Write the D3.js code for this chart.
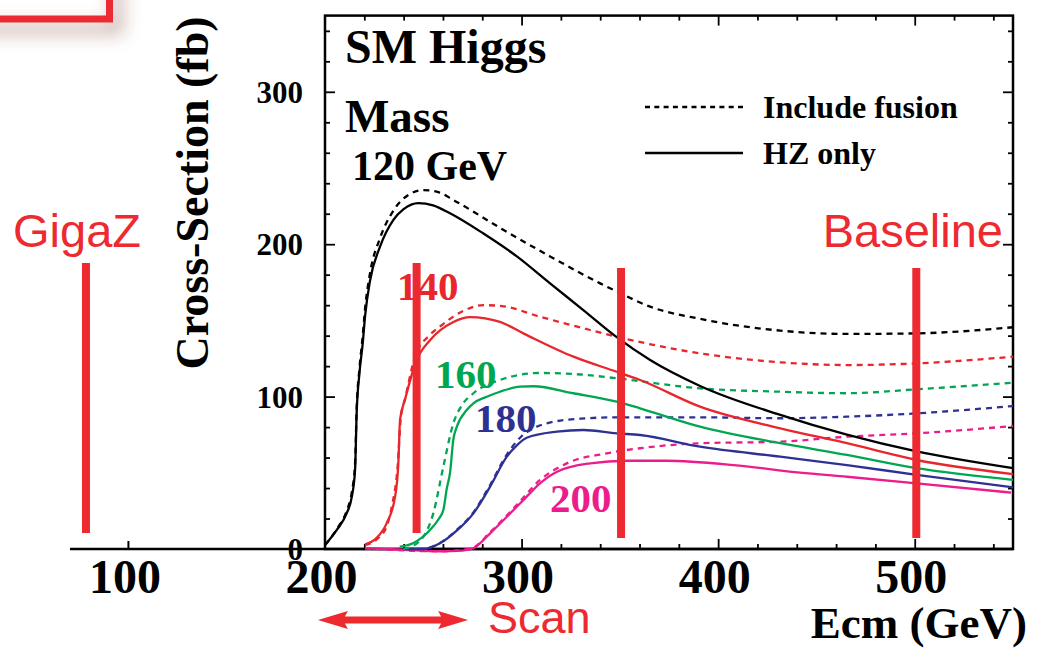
<!DOCTYPE html>
<html>
<head>
<meta charset="utf-8">
<script src="https://cdn.jsdelivr.net/npm/d3@7"></script>
<style>
  html, body { margin: 0; padding: 0; background: #fff; }
  svg { display: block; }
</style>
</head>
<body>
<svg id="chart" width="1042" height="649"></svg>
<script>
// ---------- Data (Ecm in GeV, cross-section in fb) ----------
const hz120 = [[200,2.6],[206,12.5],[211,23.4],[213.6,34],[215.3,52],[216.1,89],[217.5,115],[219.2,135],[220.4,153],[222.9,176],[228,198.4],[234.8,216],[240,223],[247.5,227],[255,225.5],[263.6,220.3],[280.6,207],[297.6,192],[314.5,174.3],[331.4,156.8],[348.4,139],[365.4,124],[390.8,107],[431.6,88],[465.5,75],[501,64],[550,53]];
const fus120 = [[200,2.6],[206,13],[211,25],[213.6,37],[215.3,56],[216.1,92],[217.5,118],[219.2,140],[220.4,158],[222.9,181],[228,204],[234.8,222],[242,232],[250,235.5],[258,234],[265.3,229],[290,210],[314.5,192],[340,174.3],[348.4,169],[365.4,159],[390.8,151],[431.6,143.3],[465.5,141.1],[501,141.5],[550,145.5]];
const hz140 = [[220.4,3],[226,7],[231.4,17],[235.6,34],[237.3,56],[238.2,85],[240.7,98],[246.6,124],[253.4,137],[265.3,149],[273.8,152.2],[289,149],[300.9,141.5],[326.4,126.2],[348.4,116.3],[360.3,110.9],[390.8,93.4],[431.6,79.2],[465.5,69.4],[501,58.4],[550,49.2]];
const fus140 = [[220.4,2.5],[226,6],[231.4,15],[234,28],[237,55],[238.5,85],[241,100],[246,127],[253,140],[258.5,146],[270,156],[280.6,160],[290,159.4],[309.4,152.4],[334.9,143.7],[348.4,139.3],[390.8,128.4],[431.6,122.5],[465.5,120.7],[501,121.8],[550,126.2]];
const hz160 = [[238,1.5],[245,4],[253.4,12.5],[258,20],[260.2,25.6],[262,40],[263.6,50],[265.3,72],[267,80],[272.1,91.2],[275.5,95.6],[282.3,99.9],[289,103.2],[299.2,106.5],[306,106.8],[326.4,102.2],[348.4,96.7],[360.3,92.3],[390.8,80.3],[431.6,69.4],[465.5,61.7],[501,53],[550,45.3]];
const fus160 = [[240,0],[246,3],[250,8],[255.1,23.4],[260.2,54],[265.3,82.5],[270,95],[275.5,102.2],[289,110.9],[309.4,115.5],[330,114.5],[348.4,112],[390.8,105.4],[431.6,103.2],[465.5,102.2],[501,104.8],[550,109.1]];
const hz180 = [[240,0],[250,0],[258.5,3.7],[267,12],[275.5,23.4],[284,40.9],[292.5,60.6],[297.6,68],[302.6,73],[318,77],[331.4,78.1],[348.4,75.9],[360.3,74.8],[390.8,67.1],[431.6,60.6],[465.5,55.1],[501,48.6],[550,40.5]];
const fus180 = [[242,0],[250,0],[258.5,4],[267,12.5],[275.5,24],[284,42],[292.5,62],[300,74],[306,79.2],[312.8,82.5],[330,85.5],[348.4,86.4],[390.8,86.4],[431.6,85.8],[465.5,86.8],[501,89],[550,93.8]];
const hz200 = [[220.4,0.5],[240,-0.5],[258.5,-1.5],[270,-1],[275.5,0.5],[284,10.3],[292.5,21.2],[301,32.2],[309.4,43.1],[318,50.7],[334.9,56.2],[353.5,57.9],[373.8,57.9],[407.8,55.1],[441.7,50.1],[465.5,47.4],[501,43.1],[549,37]];
const fus200 = [[220.4,0.5],[258.5,-1.5],[270,-0.5],[275.5,1],[284,11],[292.5,22],[297.6,29],[309.4,45.3],[323,56.2],[343.4,62.8],[360.3,66.1],[390.8,69.4],[431.6,70.4],[465.5,73.7],[501,75.9],[550,80.7]];

const massLabels = ["140","160","180","200"];
const massLabelPos = [[236.6,163.4],[256,105.6],[276.3,76.8],[314.5,24.3]]; // [Ecm, sigma] anchor (start of text baseline)
const xTickLabels = [100,200,300,400,500];
const yTickLabels = [0,100,200,300];
const legendLabels = ["Include fusion","HZ only"];

// Red overlay markers: [Ecm, sigmaLow, sigmaHigh]
const markerBars = [[78.4,10.5,187.7],[246.6,10.5,187.7],[350.6,7.2,184.4],[500.8,7.2,184.4]];
const markerTexts = ["GigaZ","Baseline","Scan"];
const scanRange = [196.4, 272.8];

// ---------- Setup ----------
const svg = d3.select("#chart");
const x = d3.scaleLinear().domain([200,550]).range([325,1013]);
const y = d3.scaleLinear().domain([0,350]).range([549,15.6]);
const serif = "'Liberation Serif','Times New Roman',serif";
const sans = "'Liberation Sans',Arial,Helvetica,sans-serif";
const RED = "#ec2a30";
const colors = {black:"#000000", red:"#e8262b", green:"#00a651", blue:"#2e3192", pink:"#ec1c8c"};

// defs: shadow filter
const defs = svg.append("defs");
const f = defs.append("filter").attr("id","shadow").attr("x","-50%").attr("y","-50%").attr("width","200%").attr("height","200%");
f.append("feDropShadow").attr("dx",8).attr("dy",10).attr("stdDeviation",9)
  .attr("flood-color","#7b3b30").attr("flood-opacity",0.6);

// top-left red box corner
svg.append("rect").attr("x",-60).attr("y",-60).attr("width",169.5).attr("height",79)
  .attr("fill","none").attr("stroke",RED).attr("stroke-width",7).attr("filter","url(#shadow)");

// extended axis line to the left
svg.append("line").attr("x1",70).attr("x2",x(550)).attr("y1",y(0)).attr("y2",y(0))
  .attr("stroke","#000").attr("stroke-width",2.5);
svg.append("line").attr("x1",x(100)).attr("x2",x(100)).attr("y1",y(0)).attr("y2",y(0)-8)
  .attr("stroke","#000").attr("stroke-width",2);

// frame
svg.append("rect").attr("x",x(200)).attr("y",y(350)).attr("width",x(550)-x(200)).attr("height",y(0)-y(350))
  .attr("fill","none").attr("stroke","#000").attr("stroke-width",2.5);

// ticks
const minorX = d3.range(200,551,20).filter(v=>v%100!==0);
const majorX = [300,400,500];
const minorY = d3.range(0,351,20).filter(v=>v%100!==0);
const majorY = [100,200,300];
function tickAxis(axisFn, scale, vals, size, transform){
  const g = svg.append("g").attr("transform",transform)
    .call(axisFn(scale).tickValues(vals).tickSize(size).tickFormat(""));
  g.select(".domain").remove();
  g.selectAll("line").attr("stroke","#000").attr("stroke-width",1.8);
  return g;
}
tickAxis(d3.axisBottom, x, minorX, -5, `translate(0,${y(0)})`);
tickAxis(d3.axisBottom, x, majorX, -10, `translate(0,${y(0)})`);
tickAxis(d3.axisTop, x, minorX, -5, `translate(0,${y(350)})`);
tickAxis(d3.axisTop, x, majorX, -10, `translate(0,${y(350)})`);
tickAxis(d3.axisLeft, y, minorY, -5, `translate(${x(200)},0)`);
tickAxis(d3.axisLeft, y, majorY, -10, `translate(${x(200)},0)`);
tickAxis(d3.axisRight, y, minorY, -5, `translate(${x(550)},0)`);
tickAxis(d3.axisRight, y, majorY, -10, `translate(${x(550)},0)`);

// x tick labels
const gx = svg.append("g").attr("transform",`translate(0,${y(0)})`)
  .call(d3.axisBottom(x).tickValues(xTickLabels).tickSize(0).tickFormat(d3.format("d")));
gx.select(".domain").remove();
gx.selectAll("text").attr("y",44).attr("dy",0).attr("dx",-4)
  .attr("font-family",serif).attr("font-weight","bold").attr("font-size",48).attr("fill","#000");

// y tick labels
const gy = svg.append("g").attr("transform",`translate(${x(200)},0)`)
  .call(d3.axisLeft(y).tickValues(yTickLabels).tickSize(0).tickPadding(22).tickFormat(d3.format("d")));
gy.select(".domain").remove();
gy.selectAll("text").attr("font-family",serif).attr("font-weight","bold").attr("font-size",31).attr("fill","#000").attr("dy","0.34em");

// axis titles
svg.append("text").attr("transform",`translate(208,193) rotate(-90)`).attr("text-anchor","middle")
  .attr("font-family",serif).attr("font-weight","bold").attr("font-size",46).text("Cross-Section (fb)");
svg.append("text").attr("x",1027).attr("y",638).attr("text-anchor","end")
  .attr("font-family",serif).attr("font-weight","bold").attr("font-size",45).text("Ecm (GeV)");

// titles in plot
const titleStyle = sel => sel.attr("font-family",serif).attr("font-weight","bold").attr("fill","#000");
svg.append("text").attr("x",345).attr("y",63).attr("font-size",48).call(titleStyle).text("SM Higgs");
svg.append("text").attr("x",345).attr("y",132).attr("font-size",47).call(titleStyle).text("Mass");
svg.append("text").attr("x",352).attr("y",180).attr("font-size",42).call(titleStyle).text("120 GeV");

// legend
svg.append("line").attr("x1",645).attr("x2",743).attr("y1",107).attr("y2",107)
  .attr("stroke","#000").attr("stroke-width",2.5).attr("stroke-dasharray","5,4.3");
svg.append("line").attr("x1",645).attr("x2",743).attr("y1",153).attr("y2",153)
  .attr("stroke","#000").attr("stroke-width",2.5);
svg.append("text").attr("x",763).attr("y",118).attr("font-size",32).call(titleStyle).text(legendLabels[0]);
svg.append("text").attr("x",763).attr("y",164).attr("font-size",32).call(titleStyle).text(legendLabels[1]);

// curves
const line = d3.line().x(d=>x(d[0])).y(d=>y(d[1])).curve(d3.curveMonotoneX);
const series = [
  {d:hz200,c:colors.pink,dash:null},{d:fus200,c:colors.pink,dash:"6,5"},
  {d:hz180,c:colors.blue,dash:null},{d:fus180,c:colors.blue,dash:"6,5"},
  {d:hz160,c:colors.green,dash:null},{d:fus160,c:colors.green,dash:"6,5"},
  {d:hz140,c:colors.red,dash:null},{d:fus140,c:colors.red,dash:"6,5"},
  {d:hz120,c:colors.black,dash:null},{d:fus120,c:colors.black,dash:"6,5"}
];
svg.append("g").selectAll("path").data(series).join("path")
  .attr("d",s=>line(s.d)).attr("fill","none").attr("stroke",s=>s.c)
  .attr("stroke-width",2.3).attr("stroke-dasharray",s=>s.dash);

// mass labels
const labelColors = [colors.red, colors.green, colors.blue, colors.pink];
svg.append("g").selectAll("text").data(massLabels).join("text")
  .attr("x",(d,i)=>x(massLabelPos[i][0])).attr("y",(d,i)=>y(massLabelPos[i][1]))
  .attr("font-family",serif).attr("font-weight","bold").attr("font-size",41)
  .attr("fill",(d,i)=>labelColors[i]).text(d=>d);

// red overlay bars
svg.append("g").selectAll("line").data(markerBars).join("line")
  .attr("x1",d=>x(d[0])).attr("x2",d=>x(d[0])).attr("y1",d=>y(d[1])).attr("y2",d=>y(d[2]))
  .attr("stroke",RED).attr("stroke-width",8);

// red overlay texts
svg.append("text").attr("x",13).attr("y",247).attr("font-family",sans).attr("font-size",47).attr("fill",RED).text(markerTexts[0]);
svg.append("text").attr("x",1003).attr("y",247).attr("text-anchor","end").attr("font-family",sans).attr("font-size",47).attr("fill",RED).text(markerTexts[1]);
svg.append("text").attr("x",488).attr("y",633).attr("font-family",sans).attr("font-size",45).attr("fill",RED).text(markerTexts[2]);

// scan double arrow
const ax0 = x(scanRange[0]), ax1 = x(scanRange[1]), ay = 620, ah = 30, aw = 9, sw = 3.5;
svg.append("path")
  .attr("d",`M${ax0},${ay} L${ax0+ah},${ay-aw} L${ax0+ah-3},${ay-sw} L${ax1-ah+3},${ay-sw} L${ax1-ah},${ay-aw} L${ax1},${ay} L${ax1-ah},${ay+aw} L${ax1-ah+3},${ay+sw} L${ax0+ah-3},${ay+sw} L${ax0+ah},${ay+aw} Z`)
  .attr("fill",RED);
</script>
</body>
</html>
